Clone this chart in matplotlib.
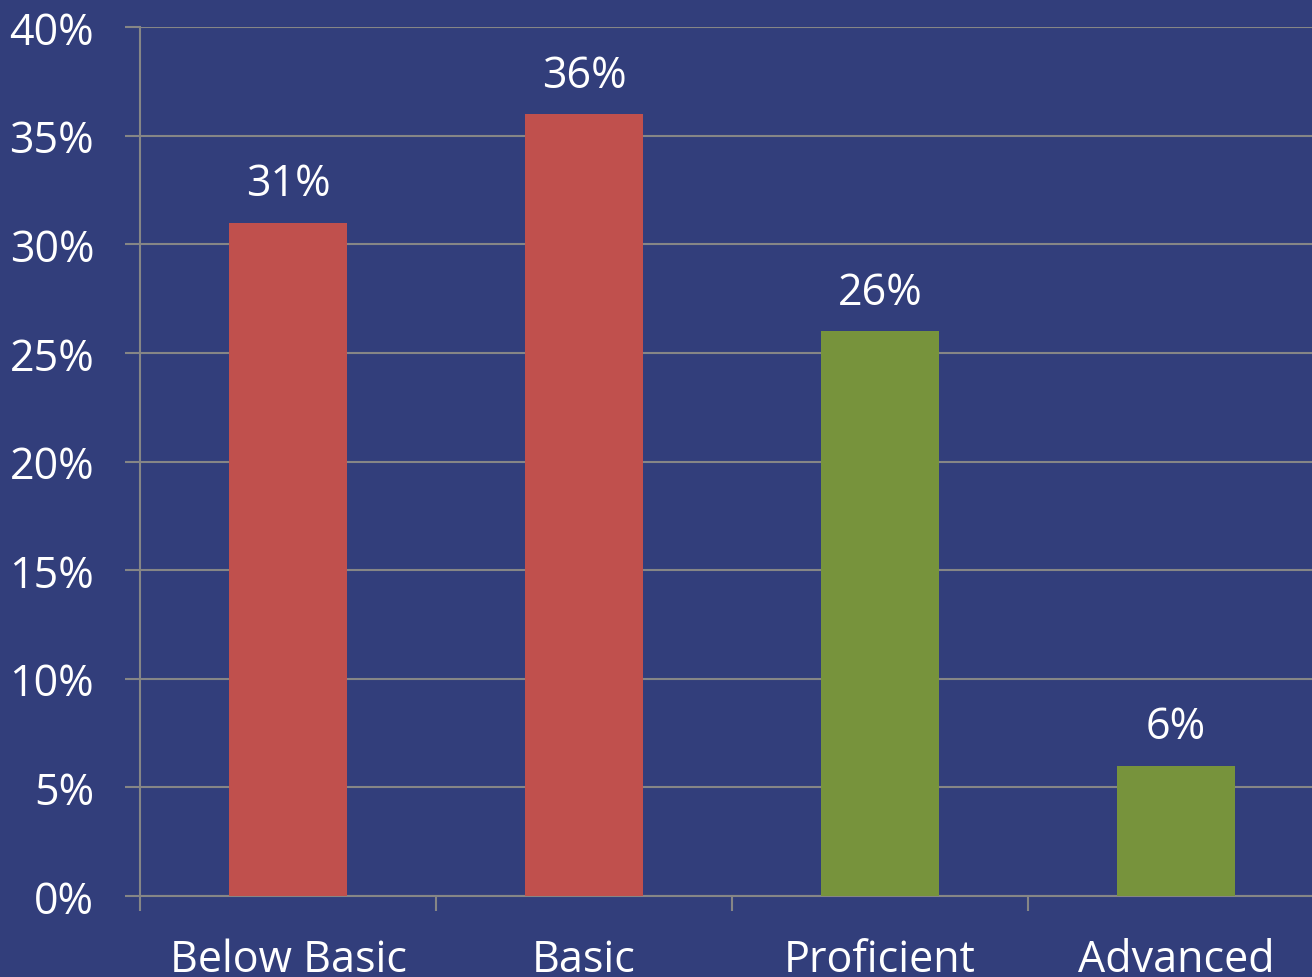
import numpy as np
import matplotlib.pyplot as plt

categories = ['Below Basic', 'Basic', 'Proficient', 'Advanced']
values = [31, 36, 26, 6]
bar_colors = ['#C0504D', '#C0504D', '#77933C', '#77933C']

bg = '#323E7B'
grid_col = '#868686'
plt.rcParams['font.family'] = ['Open Sans', 'DejaVu Sans']

fig = plt.figure(figsize=(13.12, 9.78), dpi=100, facecolor=bg)
ax = fig.add_axes([140/1312, 1-897/978, 1184/1312, 869/978])
ax.set_facecolor(bg)

x = np.arange(len(categories))
ax.bar(x, values, width=0.40, color=bar_colors, zorder=3)
for xi, v in zip(x, values):
    ax.text(xi, v + 0.75, f'{v}%', ha='center', va='bottom', color='white', fontsize=31)

ax.set_xlim(-0.5, len(categories) - 0.5)
ax.set_ylim(0, 40)
ax.set_yticks(np.arange(0, 41, 5))
ax.set_yticklabels([f'{t}%' for t in range(0, 41, 5)])
ax.yaxis.grid(True, color=grid_col, linewidth=1.5, zorder=0)
ax.set_xticks(x)
ax.set_xticklabels(categories)
ax.set_xticks(np.arange(-0.5, len(categories), 1), minor=True)

ax.tick_params(axis='y', colors=grid_col, length=11, width=1.5, labelcolor='white', labelsize=31, pad=22)
ax.tick_params(axis='x', which='major', length=0, labelcolor='white', labelsize=31, pad=30)
ax.tick_params(axis='x', which='minor', length=11, width=1.5, color=grid_col)

for s in ['top', 'right']:
    ax.spines[s].set_visible(False)
for s in ['left', 'bottom']:
    ax.spines[s].set_color(grid_col)
    ax.spines[s].set_linewidth(1.5)

fig.savefig('out.png', dpi=100, facecolor=bg)
